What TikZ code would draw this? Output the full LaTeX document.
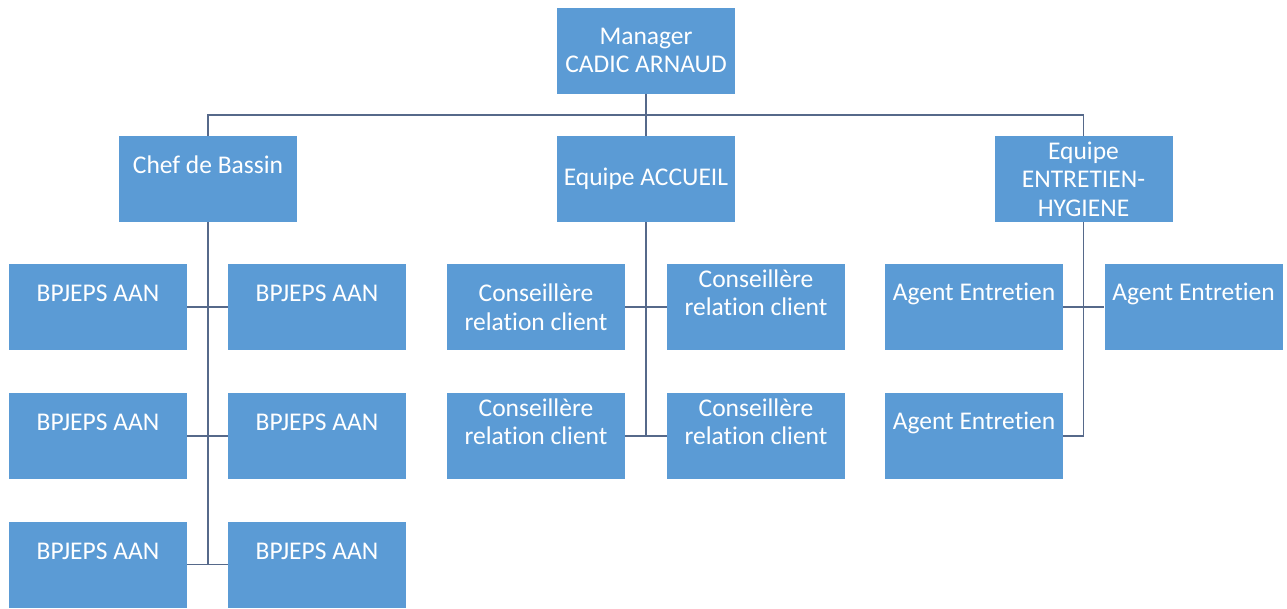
\documentclass[tikz,border=0pt]{standalone}
\usepackage{fontspec}
\setmainfont[Ligatures={NoCommon}]{Carlito}
\definecolor{boxblue}{HTML}{5B9BD5}
\definecolor{linecol}{HTML}{56698A}
\begin{document}
\begin{tikzpicture}[x=1pt,y=-1pt,
  box/.style={fill=boxblue,draw=none,minimum width=178pt,minimum height=86pt,inner sep=0pt},
  txt/.style={text=white,align=center,inner sep=0pt,font=\fontsize{25.5}{28.5}\selectfont},
  conn/.style={draw=linecol,line width=1.7pt}]
\fill[white] (0,0) rectangle (1287,608);
\useasboundingbox (0,0) rectangle (1287,608);
% boxes
\node[box] (man) at (646,50.5) {};
\node[box] (chef) at (208,179) {};
\node[box] (acc) at (646,179) {};
\node[box] (ent) at (1083.5,179) {};
\node[box] (b1l) at (98,307) {};
\node[box] (b1r) at (317,307) {};
\node[box] (b2l) at (98,436) {};
\node[box] (b2r) at (317,436) {};
\node[box] (b3l) at (98,564.5) {};
\node[box] (b3r) at (317,564.5) {};
\node[box] (c1l) at (536,307) {};
\node[box] (c1r) at (756,307) {};
\node[box] (c2l) at (536,436) {};
\node[box] (c2r) at (756,436) {};
\node[box] (a1l) at (974,307) {};
\node[box] (a1r) at (1193.5,307) {};
\node[box] (a2l) at (974,436) {};
% texts
\node[txt] (tman) at (man.center) {Manager\\CADIC ARNAUD};
\node[txt] (tchef) at ([yshift=-29pt]chef.north) {Chef de Bassin};
\node[txt] (tacc) at (acc.center) {Equipe ACCUEIL};
\node[txt] (tent) at (ent.center) {Equipe\\ENTRETIEN-\\HYGIENE};
\node[txt] (tb1l) at ([yshift=-30pt]b1l.north) {BPJEPS AAN};
\node[txt] (tb1r) at ([yshift=-30pt]b1r.north) {BPJEPS AAN};
\node[txt] (tb2l) at ([yshift=-30pt]b2l.north) {BPJEPS AAN};
\node[txt] (tb2r) at ([yshift=-30pt]b2r.north) {BPJEPS AAN};
\node[txt] (tb3l) at ([yshift=-30pt]b3l.north) {BPJEPS AAN};
\node[txt] (tb3r) at ([yshift=-30pt]b3r.north) {BPJEPS AAN};
\node[txt] (tc1l) at (c1l.center) {Conseillère\\relation client};
\node[txt] (tc1r) at ([yshift=-29pt]c1r.north) {Conseillère\\relation client};
\node[txt] (tc2l) at ([yshift=-29pt]c2l.north) {Conseillère\\relation client};
\node[txt] (tc2r) at ([yshift=-29pt]c2r.north) {Conseillère\\relation client};
\node[txt] (ta1l) at ([yshift=-30pt]a1l.north) {Agent Entretien};
\node[txt] (ta1r) at ([yshift=-30pt]a1r.north) {Agent Entretien};
\node[txt] (ta2l) at ([yshift=-30pt]a2l.north) {Agent Entretien};
% connectors
\coordinate (bus) at ([yshift=-21pt]man.south);
\draw[conn] (man.south) -- (acc.north);
\draw[conn] (chef.north) |- (bus) -| (ent.north);
\draw[conn] (chef.south) -- (chef.south |- b3l.east);
\draw[conn] (b1l.east) -- (b1r.west);
\draw[conn] (b2l.east) -- (b2r.west);
\draw[conn] (b3l.east) -- (b3r.west);
\draw[conn] (acc.south) -- (acc.south |- c2l.east);
\draw[conn] (c1l.east) -- (c1r.west);
\draw[conn] (c2l.east) -- (c2r.west);
\draw[conn] (ent.south) -- (ent.south |- a2l.east) -- (a2l.east);
\draw[conn] (a1l.east) -- (a1r.west);
\end{tikzpicture}
\end{document}
